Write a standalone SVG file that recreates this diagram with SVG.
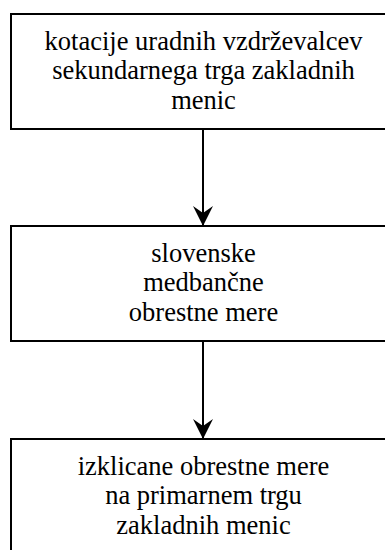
<svg xmlns="http://www.w3.org/2000/svg" width="385" height="550" viewBox="0 0 385 550">
<style>
.box{fill:#fff;stroke:#000;stroke-width:2}
.conn{stroke:#000;stroke-width:2;fill:none}
</style>
<defs>
<marker id="arr" markerUnits="userSpaceOnUse" viewBox="-20 -11 22 22" markerWidth="22" markerHeight="22" refX="0" refY="0" orient="auto">
<path d="M0,0 L-20,-10 L-13,0 L-20,10 Z" fill="#000"/>
</marker>
</defs>
<rect width="385" height="550" fill="#fff"/>
<g id="connectors">
<line class="conn" x1="203" y1="129" x2="203" y2="226" marker-end="url(#arr)"/>
<line class="conn" x1="203" y1="341" x2="203" y2="439" marker-end="url(#arr)"/>
</g>
<g font-family="'Liberation Serif', 'Times New Roman', serif" font-size="26.5" text-anchor="middle" fill="#000">
<g id="node1">
<rect class="box" x="11" y="14" width="384" height="115"/>
<text x="203.5" y="49.5">kotacije uradnih vzdrževalcev</text>
<text x="203.5" y="79">sekundarnega trga zakladnih</text>
<text x="203.5" y="108.5">menic</text>
</g>
<g id="node2">
<rect class="box" x="11" y="226" width="384" height="115"/>
<text x="203.5" y="261.5">slovenske</text>
<text x="203.5" y="291">medbančne</text>
<text x="203.5" y="320.5">obrestne mere</text>
</g>
<g id="node3">
<rect class="box" x="11" y="439" width="384" height="115"/>
<text x="203.5" y="474.5">izklicane obrestne mere</text>
<text x="203.5" y="504">na primarnem trgu</text>
<text x="203.5" y="533.5">zakladnih menic</text>
</g>
</g>
</svg>
